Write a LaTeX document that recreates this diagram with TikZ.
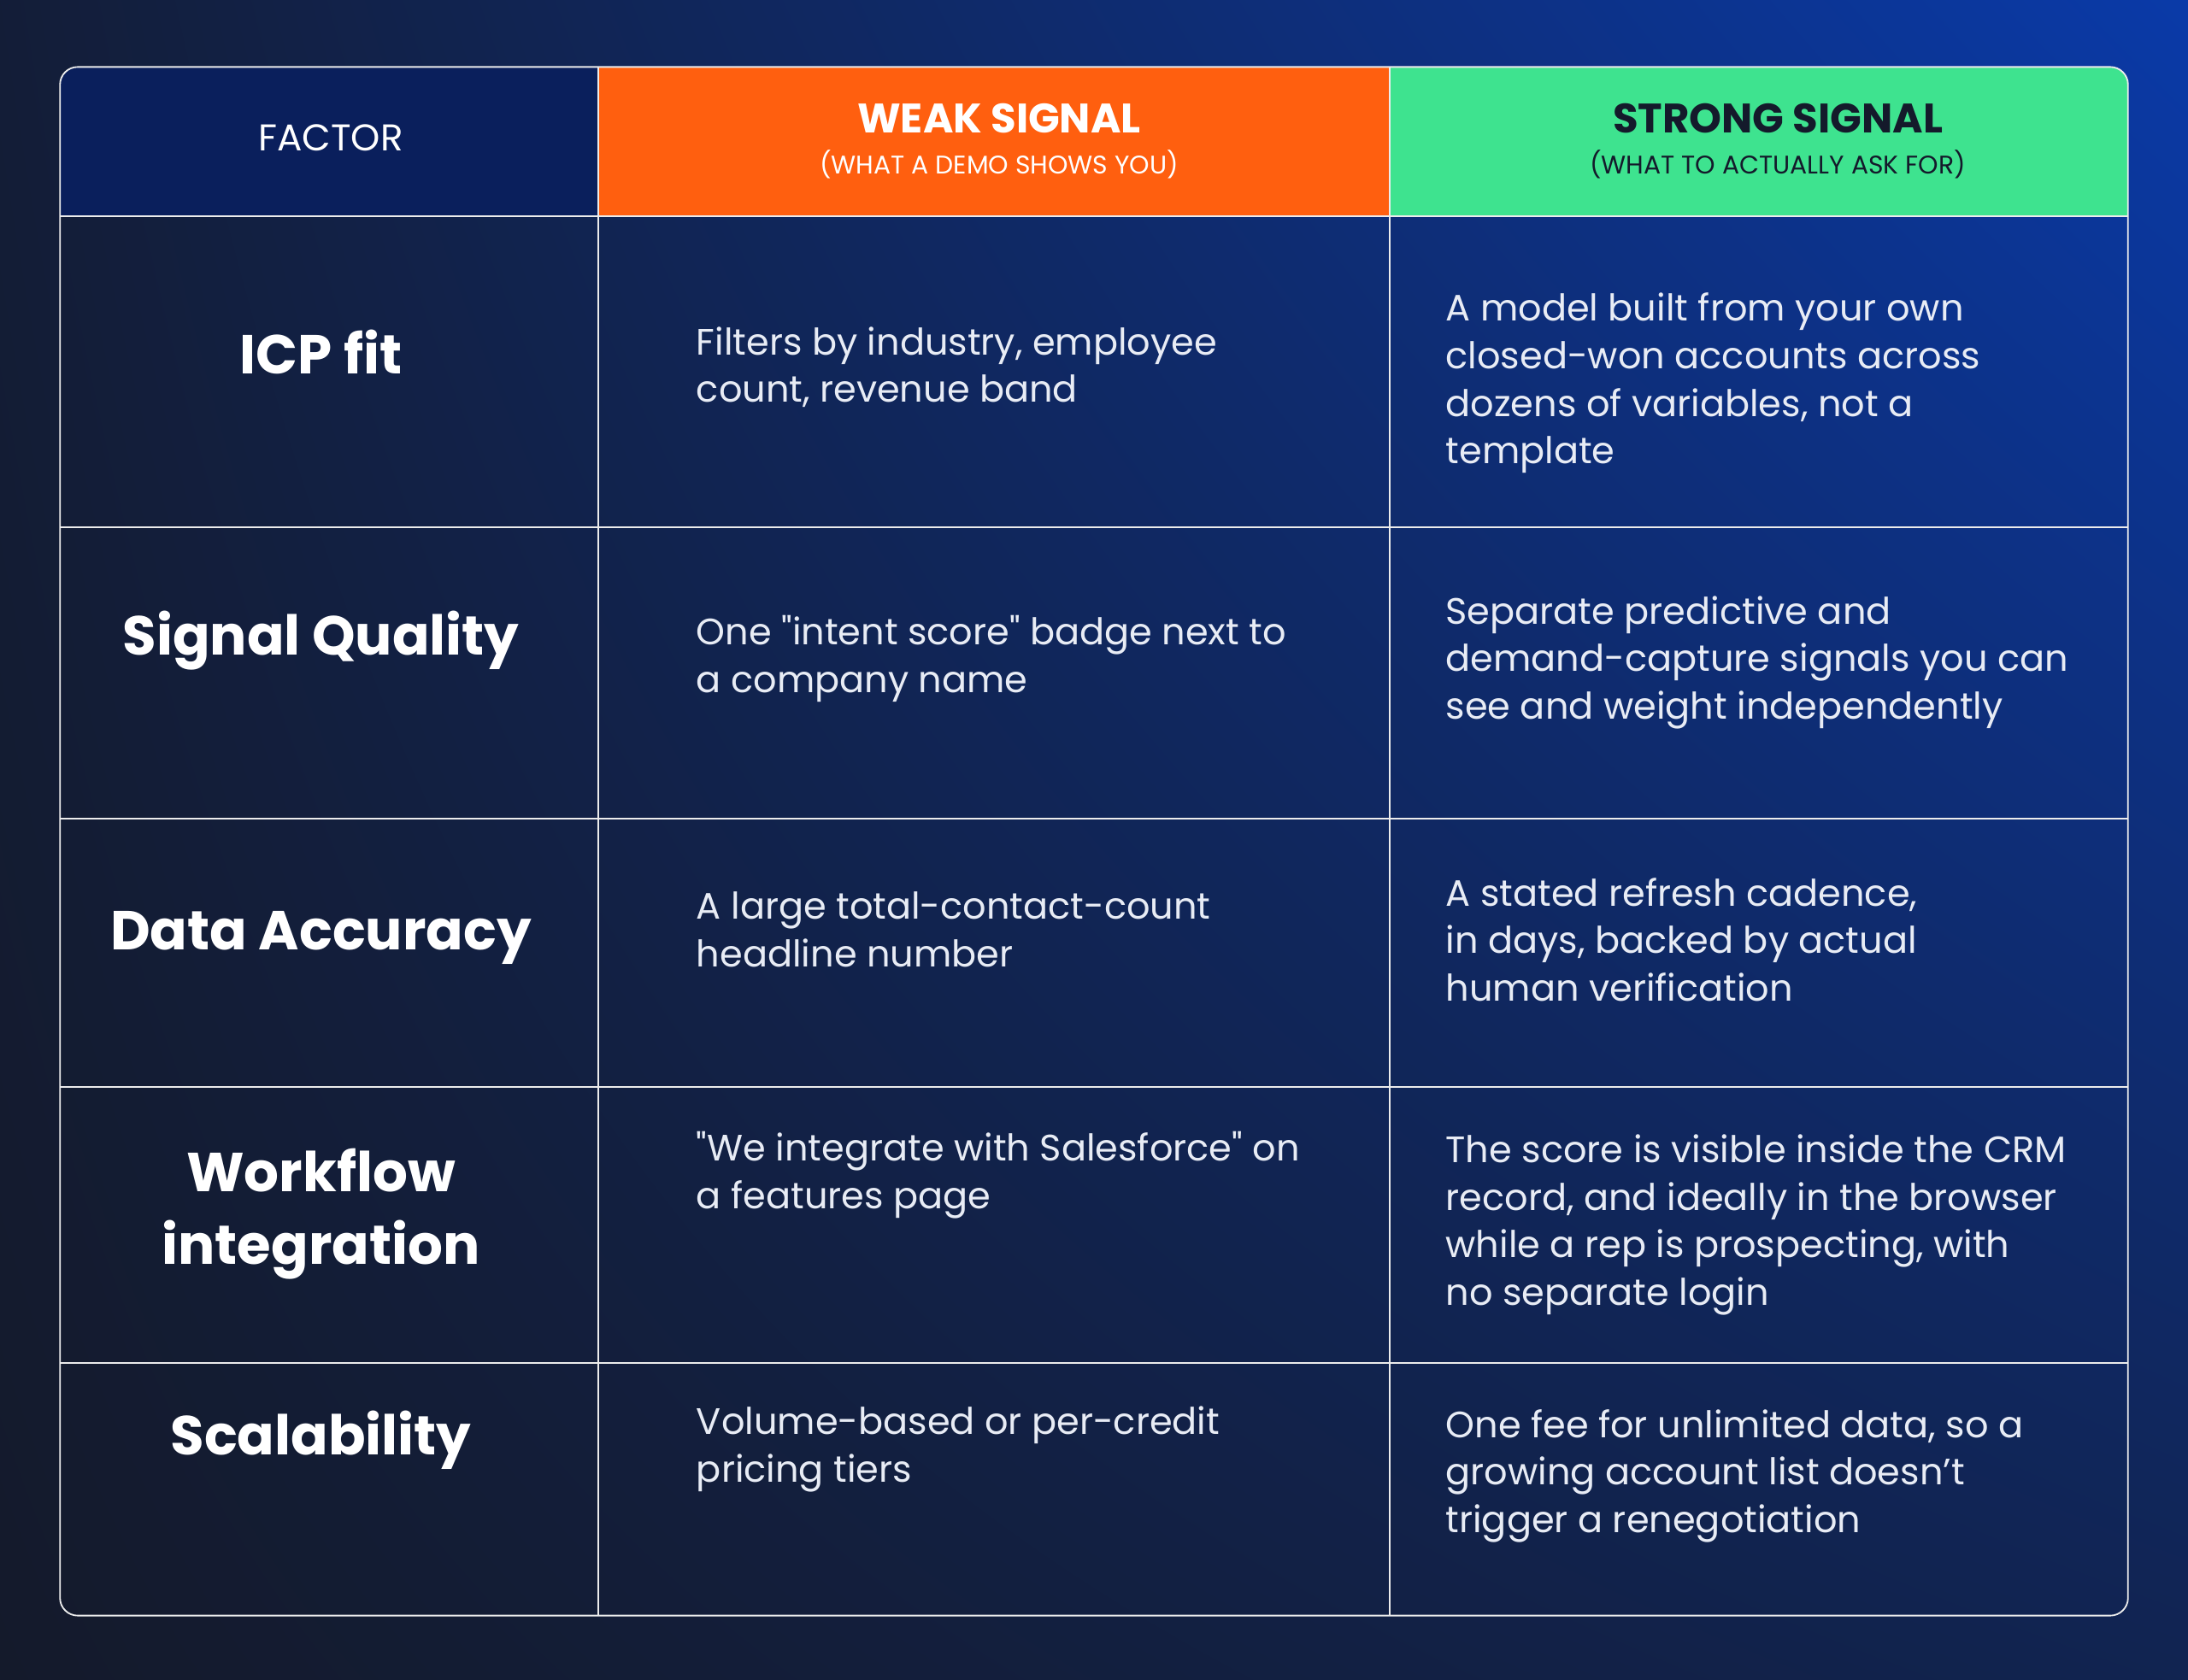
\documentclass[tikz,border=0pt]{standalone}
\usepackage{fontspec}
\setmainfont{Poppins}
\usetikzlibrary{positioning,shadings}
\definecolor{bgdark}{HTML}{141A2B}
\definecolor{bgblue}{HTML}{0A3AA8}
\definecolor{navyhead}{HTML}{0A1F5C}
\definecolor{weakorange}{HTML}{FF5F0F}
\definecolor{stronggreen}{HTML}{3EE38F}
\definecolor{bodytext}{HTML}{E8ECF5}
\tikzset{
  grid line/.style = {draw=white!85!gray, line width=1.6pt},
  factor/.style = {text=white, font=\fontsize{56}{74}\selectfont\bfseries, align=center},
  cell/.style = {text=bodytext, font=\fontsize{37.5}{48.5}\selectfont, align=left, anchor=north west, inner sep=0pt},
  headmain/.style = {font=\fontsize{42}{50}\selectfont\bfseries},
  headsub/.style = {font=\fontsize{26}{30}\selectfont}
}
\begin{document}
\begin{tikzpicture}[x=0.5mm, y=-0.5mm]
% Background
	\shade[lower left=bgdark, lower right=bgdark!70!bgblue, upper left=bgdark!90!bgblue, upper right=bgblue] (0,1204) rectangle (1568,0);
	\useasboundingbox (0,0) rectangle (1568,1204);
% Header fills
	\begin{scope}
	\clip[rounded corners=18] (43,48) rectangle (1525,1158);
	\fill[navyhead] (43,48) rectangle (429,155);
	\fill[weakorange] (429,48) rectangle (996,155);
	\fill[stronggreen] (996,48) rectangle (1525,155);
	\end{scope}
% Grid
	\draw[grid line, rounded corners=18] (43,48) rectangle (1525,1158);
	\foreach \ypos in {155,378,587,779,977}
		\draw[grid line] (43,\ypos) -- (1525,\ypos);
	\foreach \xpos in {429,996}
		\draw[grid line] (\xpos,48) -- (\xpos,1158);
% Header texts
	\node[text=white, font=\fontsize{38}{46}\selectfont] (factorhead) at (237,99) {FACTOR};
	\node[headmain, text=white] (weakhead) at (716,85) {WEAK SIGNAL};
	\node[headsub, text=white] (weaksub) at (716,118) {(WHAT A DEMO SHOWS YOU)};
	\node[headmain, text=bgdark] (stronghead) at (1274,85) {STRONG SIGNAL};
	\node[headsub, text=bgdark] (strongsub) at (1274,118) {(WHAT TO ACTUALLY ASK FOR)};
% Factor names
	\node[factor] (icp) at (230,252) {ICP fit};
	\node[factor] (quality) at (230,459) {Signal Quality};
	\node[factor] (accuracy) at (230,672) {Data Accuracy};
	\node[factor] (workflow) at (230,870) {Workflow\\integration};
	\node[factor] (scale) at (230,1032) {Scalability};
% Weak signals
	\node[cell] (weakicp) at (499,234) {Filters by industry, employee\\count, revenue band};
	\node[cell] (weakquality) at (499,441) {One \textquotedbl intent score\textquotedbl{} badge next to\\a company name};
	\node[cell] (weakaccuracy) at (499,639) {A large total-contact-count\\headline number};
	\node[cell] (weakworkflow) at (499,811) {\textquotedbl We integrate with Salesforce\textquotedbl{} on\\a features page};
	\node[cell] (weakscale) at (499,1008) {Volume-based or per-credit\\pricing tiers};
% Strong signals
	\node[cell] (strongicp) at (1036,210) {A model built from your own\\closed-won accounts across\\dozens of variables, not a\\template};
	\node[cell] (strongquality) at (1036,427) {Separate predictive and\\demand-capture signals you can\\see and weight independently};
	\node[cell] (strongaccuracy) at (1036,629) {A stated refresh cadence,\\in days, backed by actual\\human verification};
	\node[cell] (strongworkflow) at (1036,813) {The score is visible inside the CRM\\record, and ideally in the browser\\while a rep is prospecting, with\\no separate login};
	\node[cell] (strongscale) at (1036,1010) {One fee for unlimited data, so a\\growing account list doesn't\\trigger a renegotiation};
\end{tikzpicture}
\end{document}
